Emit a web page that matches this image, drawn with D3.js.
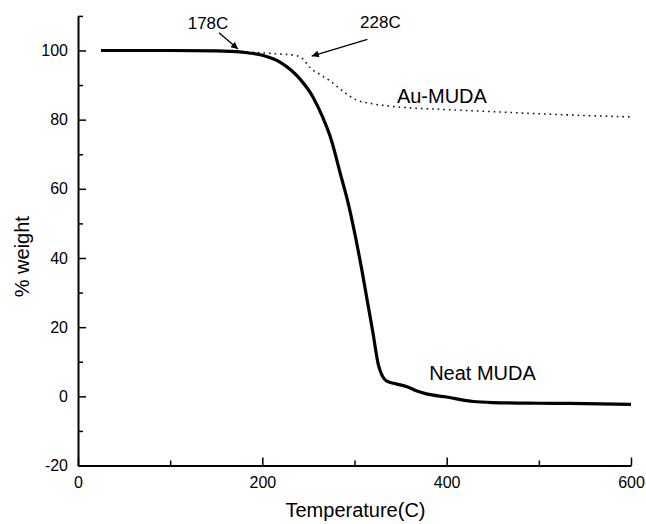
<!DOCTYPE html>
<html>
<head>
<meta charset="utf-8">
<script src="https://cdn.jsdelivr.net/npm/d3@7"></script>
<style>
  body { margin: 0; background: #fff; }
  text { font-family: "Liberation Sans", Arial, Helvetica, sans-serif; fill: #000; }
</style>
</head>
<body>
<div id="chart"></div>
<script>
// ------------------------------------------------------
// Size of the picture
const width = 646
const height = 524

// ------------------------------------------------------
// Data (temperature in C, % weight)
const neatMuda = [
	[25, 100], [100, 100], [150, 99.9], [178, 99.5], [200, 98.6], [220, 96.5],
	[240, 92], [255, 86.5], [265, 81], [275, 74], [285, 64], [293, 56],
	[300, 47.5], [308, 36.5], [320, 18.4], [326, 9], [330, 6], [335, 4.4],
	[345, 3.6], [357, 2.8], [367, 1.6], [378, 0.7], [400, -0.2], [429, -1.5],
	[450, -1.8], [500, -2.0], [550, -2.1], [600, -2.3]
]
const auMuda = [
	[25, 100], [100, 100], [178, 99.6], [212, 99.1], [235, 98.6], [243, 97.8],
	[252, 95], [263, 93], [273, 91.3], [288, 88.1], [302, 85.7], [317, 84.7],
	[339, 83.9], [346, 83.7], [400, 82.9], [443, 82.4], [500, 81.7],
	[550, 81.2], [600, 80.8]
]

// tick values
const xMajor = [0, 200, 400, 600]
const xMinor = [100, 300, 500]
const yMajor = [-20, 0, 20, 40, 60, 80, 100]
const yMinor = [-10, 10, 30, 50, 70, 90, 110]

// annotation labels: [text, x, y] in data units
const labels = [
	['178C', 119, 106.2],
	['228C', 306, 106.4],
	['Au-MUDA', 346, 84.7],
	['Neat MUDA', 381, 4.7]
]
// arrows: [x1, y1, x2, y2] in data units
const arrows = [
	[153, 105.1, 173.6, 100.4],
	[314, 103.2, 253.6, 98.4]
]

// ------------------------------------------------------
// Scales
const x = d3.scaleLinear().domain([0, 600]).range([78, 631])
const y = d3.scaleLinear().domain([-20, 110]).range([465.5, 15.9])

const svg = d3.select('#chart')
	.append('svg')
	.attr('width', width)
	.attr('height', height)

// arrow head
svg.append('defs')
	.append('marker')
	.attr('id', 'head')
	.attr('viewBox', '0 0 10 10')
	.attr('refX', 10)
	.attr('refY', 5)
	.attr('markerWidth', 9)
	.attr('markerHeight', 7)
	.attr('markerUnits', 'userSpaceOnUse')
	.attr('orient', 'auto')
	.append('path')
	.attr('d', 'M0,0L10,5L0,10Z')
	.attr('fill', '#000')

// ------------------------------------------------------
// Axes (ticks point inward)
const fontSize = 16
const plain = d => String(d) // keep the ascii hyphen for negatives

svg.append('g')
	.attr('transform', `translate(0,${y(-20)})`)
	.call(d3.axisBottom(x).tickValues(xMajor).tickFormat(plain).tickSizeInner(-8).tickSizeOuter(0).tickPadding(11))
svg.append('g')
	.attr('transform', `translate(0,${y(-20)})`)
	.call(d3.axisBottom(x).tickValues(xMinor).tickSizeInner(-5).tickSizeOuter(0).tickFormat(''))
	.call(g => g.select('.domain').remove())

svg.append('g')
	.attr('transform', `translate(${x(0)},0)`)
	.call(d3.axisLeft(y).tickValues(yMajor).tickFormat(plain).tickSizeInner(-8).tickSizeOuter(0).tickPadding(10))
svg.append('g')
	.attr('transform', `translate(${x(0)},0)`)
	.call(d3.axisLeft(y).tickValues(yMinor).tickSizeInner(-5).tickSizeOuter(0).tickFormat(''))
	.call(g => g.select('.domain').remove())

svg.selectAll('.domain').attr('stroke-width', 2)
svg.selectAll('.tick line').attr('stroke-width', 1.5)
svg.selectAll('.tick text')
	.attr('font-size', fontSize)
	.attr('font-family', '"Liberation Sans", Arial, sans-serif')

// axis titles
svg.append('text')
	.attr('x', (x(0) + x(600)) / 2 + 1)
	.attr('y', 517)
	.attr('text-anchor', 'middle')
	.attr('font-size', 20)
	.text('Temperature(C)')

svg.append('text')
	.attr('transform', `translate(29,${(y(-20) + y(110)) / 2 + 16}) rotate(-90)`)
	.attr('text-anchor', 'middle')
	.attr('font-size', 20)
	.text('% weight')

// ------------------------------------------------------
// Curves
const line = d3.line()
	.x(d => x(d[0]))
	.y(d => y(d[1]))
	.curve(d3.curveMonotoneX)

svg.append('path')
	.datum(auMuda)
	.attr('d', line)
	.attr('fill', 'none')
	.attr('stroke', '#111')
	.attr('stroke-width', 1.6)
	.attr('stroke-dasharray', '1.6 4')

svg.append('path')
	.datum(neatMuda)
	.attr('d', line)
	.attr('fill', 'none')
	.attr('stroke', '#000')
	.attr('stroke-width', 3.2)
	.attr('stroke-linejoin', 'round')

// ------------------------------------------------------
// Annotations
svg.selectAll('.arrow')
	.data(arrows)
	.enter()
	.append('line')
	.attr('class', 'arrow')
	.attr('x1', d => x(d[0]))
	.attr('y1', d => y(d[1]))
	.attr('x2', d => x(d[2]))
	.attr('y2', d => y(d[3]))
	.attr('stroke', '#000')
	.attr('stroke-width', 1.3)
	.attr('marker-end', 'url(#head)')

svg.selectAll('.label')
	.data(labels)
	.enter()
	.append('text')
	.attr('class', 'label')
	.attr('x', d => x(d[1]))
	.attr('y', d => y(d[2]))
	.attr('font-size', (d, i) => i < 2 ? 17 : 20)
	.text(d => d[0])
</script>
</body>
</html>
